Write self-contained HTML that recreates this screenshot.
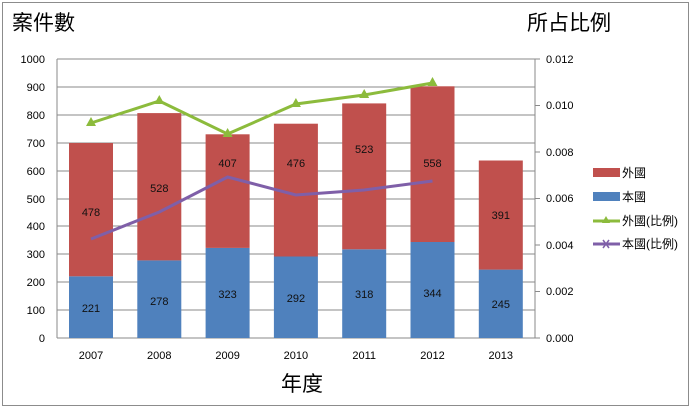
<!DOCTYPE html><html><head><style>body{margin:0;background:#fff}svg{display:block}text{font-family:"Liberation Sans","Noto Sans CJK TC",sans-serif}</style></head><body>
<svg width="697" height="411" xmlns="http://www.w3.org/2000/svg">
<rect x="2.5" y="2.5" width="686" height="403" fill="#fff" stroke="#8c8c8c"/>
<text x="12" y="30" font-size="21">案件數</text>
<text x="527" y="30" font-size="21">所占比例</text>
<text x="281" y="391" font-size="21">年度</text>
<g stroke="#8a8a8a" stroke-width="1">
<line x1="57" y1="59" x2="535" y2="59"/><line x1="57" y1="87" x2="535" y2="87"/><line x1="57" y1="115" x2="535" y2="115"/><line x1="57" y1="143" x2="535" y2="143"/><line x1="57" y1="171" x2="535" y2="171"/><line x1="57" y1="199" x2="535" y2="199"/><line x1="57" y1="226" x2="535" y2="226"/><line x1="57" y1="254" x2="535" y2="254"/><line x1="57" y1="282" x2="535" y2="282"/><line x1="57" y1="310" x2="535" y2="310"/>
<line x1="57" y1="59" x2="57" y2="338"/><line x1="57" y1="338" x2="535" y2="338"/><line x1="535" y1="59" x2="535" y2="338"/>
<line x1="535" y1="59" x2="540" y2="59"/><line x1="535" y1="105.5" x2="540" y2="105.5"/><line x1="535" y1="152" x2="540" y2="152"/><line x1="535" y1="198.5" x2="540" y2="198.5"/><line x1="535" y1="245" x2="540" y2="245"/><line x1="535" y1="291.5" x2="540" y2="291.5"/><line x1="535" y1="338" x2="540" y2="338"/>
</g>
<g font-size="11" text-anchor="end">
<text x="45" y="63">1000</text><text x="45" y="91">900</text><text x="45" y="119">800</text><text x="45" y="147">700</text><text x="45" y="175">600</text><text x="45" y="203">500</text><text x="45" y="230">400</text><text x="45" y="258">300</text><text x="45" y="286">200</text><text x="45" y="314">100</text><text x="45" y="342">0</text>
</g>
<g font-size="11">
<text x="546" y="63">0.012</text><text x="546" y="109">0.010</text><text x="546" y="156">0.008</text><text x="546" y="202">0.006</text><text x="546" y="249">0.004</text><text x="546" y="295">0.002</text><text x="546" y="342">0.000</text>
</g>
<g>
<rect x="69" y="276.3" width="44" height="61.7" fill="#4f81bd"/><rect x="69" y="143" width="44" height="133.3" fill="#c0504d"/>
<rect x="137.3" y="260.4" width="44" height="77.6" fill="#4f81bd"/><rect x="137.3" y="113.1" width="44" height="147.3" fill="#c0504d"/>
<rect x="205.6" y="247.9" width="44" height="90.1" fill="#4f81bd"/><rect x="205.6" y="134.3" width="44" height="113.6" fill="#c0504d"/>
<rect x="273.9" y="256.5" width="44" height="81.5" fill="#4f81bd"/><rect x="273.9" y="123.7" width="44" height="132.8" fill="#c0504d"/>
<rect x="342.2" y="249.3" width="44" height="88.7" fill="#4f81bd"/><rect x="342.2" y="103.4" width="44" height="145.9" fill="#c0504d"/>
<rect x="410.5" y="242" width="44" height="96" fill="#4f81bd"/><rect x="410.5" y="86.3" width="44" height="155.7" fill="#c0504d"/>
<rect x="478.8" y="269.6" width="44" height="68.4" fill="#4f81bd"/><rect x="478.8" y="160.5" width="44" height="109.1" fill="#c0504d"/>
</g>
<g font-size="11" text-anchor="middle" fill="#111">
<text x="91" y="312">221</text><text x="91" y="216">478</text>
<text x="159.3" y="305">278</text><text x="159.3" y="192">528</text>
<text x="227.6" y="298">323</text><text x="227.6" y="167">407</text>
<text x="295.9" y="302">292</text><text x="295.9" y="167">476</text>
<text x="364.2" y="298">318</text><text x="364.2" y="153">523</text>
<text x="432.5" y="297">344</text><text x="432.5" y="167">558</text>
<text x="500.8" y="308">245</text><text x="500.8" y="219">391</text>
</g>
<g font-size="11" text-anchor="middle">
<text x="91" y="359">2007</text><text x="159.3" y="359">2008</text><text x="227.6" y="359">2009</text><text x="295.9" y="359">2010</text><text x="364.2" y="359">2011</text><text x="432.5" y="359">2012</text><text x="500.8" y="359">2013</text>
</g>
<polyline points="91,239 159.3,212 227.6,177 295.9,195 364.2,190 432.5,181" fill="none" stroke="#7f5fa8" stroke-width="3"/>
<polyline points="91,123 159.3,101 227.6,134 295.9,104 364.2,95 432.5,83" fill="none" stroke="#8cbb3c" stroke-width="3"/>
<g fill="#8cbb3c">
<polygon points="91,117 96,126 86,126"/><polygon points="159.3,95 164.3,104 154.3,104"/><polygon points="227.6,128 232.6,137 222.6,137"/><polygon points="295.9,98 300.9,107 290.9,107"/><polygon points="364.2,89 369.2,98 359.2,98"/><polygon points="432.5,77 437.5,86 427.5,86"/>
</g>
<rect x="593" y="168" width="27" height="9" fill="#c0504d"/>
<text x="622" y="177" font-size="12">外國</text>
<rect x="593" y="192" width="27" height="9" fill="#4f81bd"/>
<text x="622" y="201" font-size="12">本國</text>
<line x1="593" y1="221" x2="620" y2="221" stroke="#8cbb3c" stroke-width="3"/><polygon points="606,216 610,223 602,223" fill="#8cbb3c"/>
<text x="622" y="225" font-size="12">外國(比例)</text>
<line x1="593" y1="244" x2="620" y2="244" stroke="#7f5fa8" stroke-width="3"/>
<path d="M603,240 l6,8 M609,240 l-6,8" stroke="#7f5fa8" stroke-width="1.5"/>
<text x="622" y="248" font-size="12">本國(比例)</text>
</svg>
</body></html>
